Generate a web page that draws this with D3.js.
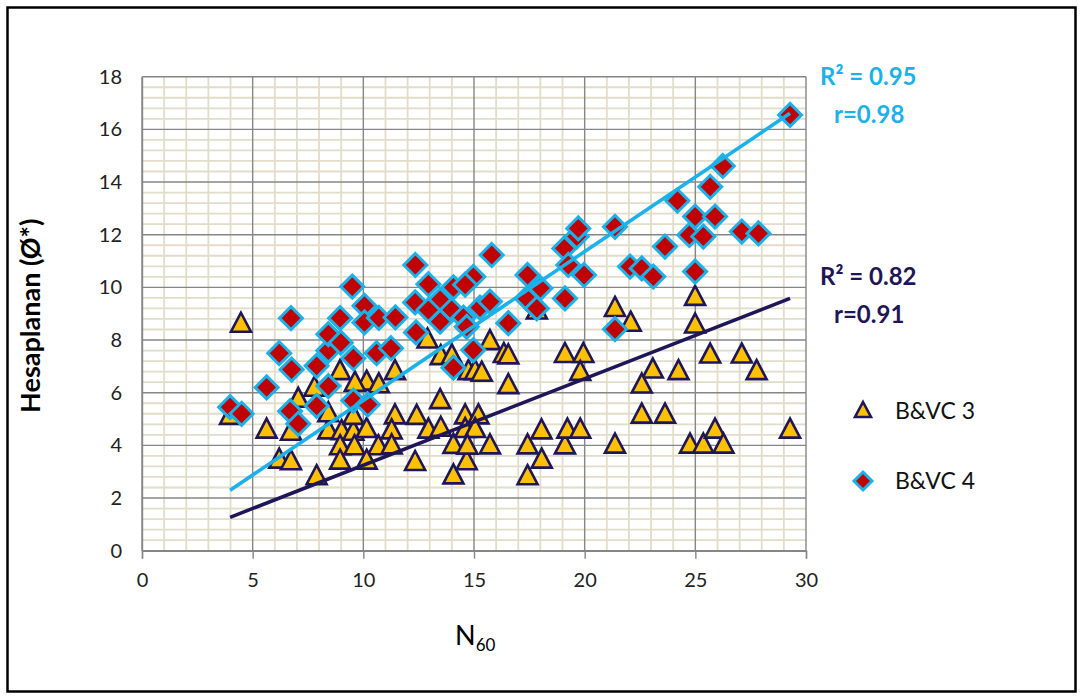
<!DOCTYPE html>
<html>
<head>
<meta charset="utf-8">
<script src="https://cdn.jsdelivr.net/npm/d3@7"></script>
<style>
  html, body { margin: 0; padding: 0; background: #fff; }
  svg { display: block; }
  text { font-family: Lato, "Open Sans", "Liberation Sans", sans-serif; }
</style>
</head>
<body>
<svg id="chart" width="1083" height="697"></svg>
<script>
// B&VC 3 : [N60, Hesaplanan]
const bvc3 = [
  [3.98, 5.1], [4.47, 8.6], [5.63, 4.58], [6.2, 3.44], [6.73, 3.38], [6.73, 4.5],
  [7.06, 5.75], [7.79, 6.17], [7.89, 2.81], [8.42, 4.55], [8.42, 5.2], [8.95, 6.8],
  [9.02, 4.52], [8.95, 3.95], [8.95, 3.4], [9.55, 4.5], [9.6, 3.95], [9.55, 5.1],
  [10.15, 4.6], [10.68, 3.95], [10.15, 3.4], [10.15, 6.4], [10.7, 6.3], [9.62, 6.36],
  [11.43, 6.8], [11.43, 5.12], [11.28, 4.55], [11.28, 3.98], [12.41, 5.1], [12.34, 3.35],
  [12.94, 4.58], [13.5, 4.65], [13.47, 5.7], [14.07, 4.0], [14.07, 2.84], [14.67, 3.38],
  [14.6, 5.12], [15.2, 5.12], [14.6, 4.6], [15.05, 4.6], [14.7, 3.97], [15.72, 3.98],
  [13.5, 7.37], [14.0, 7.4], [12.9, 8.0], [14.75, 6.8], [15.05, 6.8], [15.35, 6.74],
  [15.72, 7.94], [16.35, 7.45], [16.55, 7.4], [16.55, 6.27], [17.84, 9.1], [17.42, 3.98],
  [18.05, 4.55], [18.06, 3.44], [17.42, 2.81], [19.11, 3.98], [19.22, 4.58], [19.8, 4.58],
  [19.11, 7.45], [19.94, 7.45], [19.8, 6.77], [21.37, 9.2], [22.08, 8.64], [24.99, 9.62],
  [24.99, 8.57], [23.08, 6.86], [22.58, 6.29], [24.24, 6.8], [25.67, 7.43], [27.1, 7.43],
  [27.77, 6.8], [22.58, 5.15], [23.63, 5.15], [21.37, 4.01], [24.76, 4.01], [25.36, 4.01],
  [25.89, 4.58], [26.27, 4.01], [29.28, 4.58]
];

// B&VC 4 : [N60, Hesaplanan]
const bvc4 = [
  [3.98, 5.45], [4.5, 5.2], [5.63, 6.2], [6.2, 7.5], [6.73, 8.83], [6.76, 6.88],
  [6.69, 5.3], [7.06, 4.82], [7.89, 5.5], [7.89, 7.02], [8.42, 6.25], [8.42, 7.6],
  [8.42, 8.22], [8.95, 8.83], [8.98, 7.9], [9.55, 7.31], [9.5, 10.03], [10.05, 9.3],
  [10.05, 8.67], [9.55, 5.7], [10.2, 5.55], [10.6, 7.5], [11.25, 7.69], [10.7, 8.84],
  [11.45, 8.86], [12.35, 10.85], [12.94, 10.12], [12.34, 9.43], [13.47, 9.52], [13.99, 9.14],
  [14.07, 10.0], [14.97, 10.4], [14.6, 10.1], [13.47, 8.7], [12.94, 9.14], [12.38, 8.29],
  [14.52, 8.85], [14.07, 6.95], [14.67, 8.5], [14.97, 7.62], [15.27, 9.23], [15.72, 9.46],
  [15.8, 11.23], [16.55, 8.64], [17.42, 10.47], [18.0, 9.97], [17.38, 9.58], [17.84, 9.2],
  [19.11, 9.58], [19.08, 11.48], [19.64, 11.93], [19.71, 12.24], [19.26, 10.85], [19.97, 10.47],
  [21.37, 12.3], [22.05, 10.79], [22.58, 10.72], [23.1, 10.41], [23.63, 11.55], [24.19, 13.29],
  [24.73, 11.99], [24.99, 12.69], [24.99, 10.6], [25.36, 11.93], [25.67, 13.82], [25.89, 12.69],
  [26.24, 14.61], [27.1, 12.12], [27.85, 12.05], [29.28, 16.55], [21.37, 8.41]
];

// Linear trend lines: [slope, intercept]
const trend3 = [0.3286, -0.04];
const trend4 = [0.5657, 0.047];

// Regression statistics
const stats3 = ["R² = 0.82", "r=0.91"];
const stats4 = ["R² = 0.95", "r=0.98"];

// Axes
const xTicks = [0, 5, 10, 15, 20, 25, 30];
const yTicks = [0, 2, 4, 6, 8, 10, 12, 14, 16, 18];
const seriesNames = ["B&VC 3", "B&VC 4"];

const colors = {
  triFill: "#FFC000", triStroke: "#1E1656",
  diaFill: "#C00000", diaStroke: "#1BB1E9",
  line3: "#1E1656", line4: "#1BB1E9"
};

const svg = d3.select("#chart");

// Outer frame
svg.append("rect")
  .attr("x", 7.5).attr("y", 7.5).attr("width", 1068).attr("height", 684)
  .attr("fill", "#fff").attr("stroke", "#000").attr("stroke-width", 2.5);

const plot = { left: 142, top: 76.7, right: 806, bottom: 550.7 };
const x = d3.scaleLinear().domain([0, 30]).range([plot.left, plot.right]);
const y = d3.scaleLinear().domain([0, 18]).range([plot.bottom, plot.top]);

// Minor grid
const g = svg.append("g");
const minorX = d3.range(0, 30.01, 1).filter(v => v % 5 !== 0);
const minorY = d3.range(0, 18.01, 0.4).filter(v => Math.abs(v / 2 - Math.round(v / 2)) > 1e-6);
g.selectAll(".mx").data(minorX).join("line")
  .attr("x1", d => x(d)).attr("x2", d => x(d))
  .attr("y1", plot.top).attr("y2", plot.bottom)
  .attr("stroke", "#E2DCC8").attr("stroke-width", 1.8);
g.selectAll(".my").data(minorY).join("line")
  .attr("x1", plot.left).attr("x2", plot.right)
  .attr("y1", d => y(d)).attr("y2", d => y(d))
  .attr("stroke", "#E2DCC8").attr("stroke-width", 1.8);

// Major grid
g.selectAll(".Mx").data(xTicks).join("line")
  .attr("x1", d => x(d)).attr("x2", d => x(d))
  .attr("y1", plot.top).attr("y2", plot.bottom)
  .attr("stroke", "#868686").attr("stroke-width", 1.4);
g.selectAll(".My").data(yTicks).join("line")
  .attr("x1", plot.left).attr("x2", plot.right)
  .attr("y1", d => y(d)).attr("y2", d => y(d))
  .attr("stroke", "#868686").attr("stroke-width", 1.4);

// X axis
const xAxis = svg.append("g").attr("transform", `translate(0,${plot.bottom})`)
  .call(d3.axisBottom(x).tickValues(xTicks).tickSize(8).tickPadding(14).tickFormat(d3.format("d")));
xAxis.select(".domain").attr("stroke", "#868686").attr("stroke-width", 1.4);
xAxis.selectAll(".tick line").attr("stroke", "#868686").attr("stroke-width", 1.4);
xAxis.selectAll("text").attr("font-size", 20).attr("fill", "#222")
  .style("font-family", "Lato, 'Open Sans', sans-serif");

// Y axis
const yAxis = svg.append("g").attr("transform", `translate(${plot.left},0)`)
  .call(d3.axisLeft(y).tickValues(yTicks).tickSize(0).tickPadding(20).tickFormat(d3.format("d")));
yAxis.select(".domain").attr("stroke", "#868686").attr("stroke-width", 1.4);
yAxis.selectAll("text").attr("font-size", 20).attr("fill", "#222")
  .style("font-family", "Lato, 'Open Sans', sans-serif");

// Axis titles
svg.append("text")
  .attr("transform", `translate(40,${(plot.top + plot.bottom) / 2 + 2}) rotate(-90)`)
  .attr("text-anchor", "middle").attr("font-size", 27).attr("font-weight", "bold").attr("fill", "#000")
  .text("Hesaplanan (Ø*)");

const xt = svg.append("text").attr("x", 455).attr("y", 645)
  .attr("font-size", 27).attr("fill", "#000");
xt.append("tspan").text("N");
xt.append("tspan").attr("font-size", 17).attr("dy", 6).text("60");

// Markers
const triPath = "M0,-11.5 L10,7.5 L-10,7.5 Z";
const diaPath = "M0,-11.5 L11.5,0 L0,11.5 L-11.5,0 Z";

svg.append("g").selectAll("path").data(bvc3).join("path")
  .attr("d", triPath)
  .attr("transform", d => `translate(${x(d[0])},${y(d[1])})`)
  .attr("fill", colors.triFill).attr("stroke", colors.triStroke)
  .attr("stroke-width", 2.6).attr("stroke-linejoin", "miter");

svg.append("g").selectAll("path").data(bvc4).join("path")
  .attr("d", diaPath)
  .attr("transform", d => `translate(${x(d[0])},${y(d[1])})`)
  .attr("fill", colors.diaFill).attr("stroke", colors.diaStroke)
  .attr("stroke-width", 3);

// Trend lines across the data range
function trendLine(data, coef, color) {
  const ext = d3.extent(data, d => d[0]);
  const pts = ext.map(v => [v, coef[0] * v + coef[1]]);
  svg.append("path")
    .attr("d", d3.line().x(d => x(d[0])).y(d => y(d[1]))(pts))
    .attr("stroke", color).attr("stroke-width", 3.6).attr("fill", "none");
}
trendLine(bvc3, trend3, colors.line3);
trendLine(bvc4, trend4, colors.line4);

// Regression annotations
function statLabel(lines, yTop, color) {
  svg.append("text").attr("x", 820).attr("y", yTop)
    .attr("font-size", 24).attr("font-weight", "bold").attr("fill", color)
    .text(lines[0]);
  svg.append("text").attr("x", 834).attr("y", yTop + 38)
    .attr("font-size", 24).attr("font-weight", "bold").attr("fill", color)
    .text(lines[1]);
}
statLabel(stats4, 85, colors.line4);
statLabel(stats3, 285, colors.line3);

// Legend
const legend = svg.append("g");
const legendItems = [
  { name: seriesNames[0], d: "M0,-9 L8,6 L-8,6 Z", fill: colors.triFill, stroke: colors.triStroke, sw: 2.6, cy: 411 },
  { name: seriesNames[1], d: "M0,-9 L9,0 L0,9 L-9,0 Z", fill: colors.diaFill, stroke: colors.diaStroke, sw: 3, cy: 481 }
];
legendItems.forEach(it => {
  legend.append("path").attr("d", it.d)
    .attr("transform", `translate(863,${it.cy})`)
    .attr("fill", it.fill).attr("stroke", it.stroke).attr("stroke-width", it.sw);
  legend.append("text").attr("x", 895).attr("y", it.cy + 8)
    .attr("font-size", 23).attr("fill", "#111").text(it.name);
});
</script>
</body>
</html>
